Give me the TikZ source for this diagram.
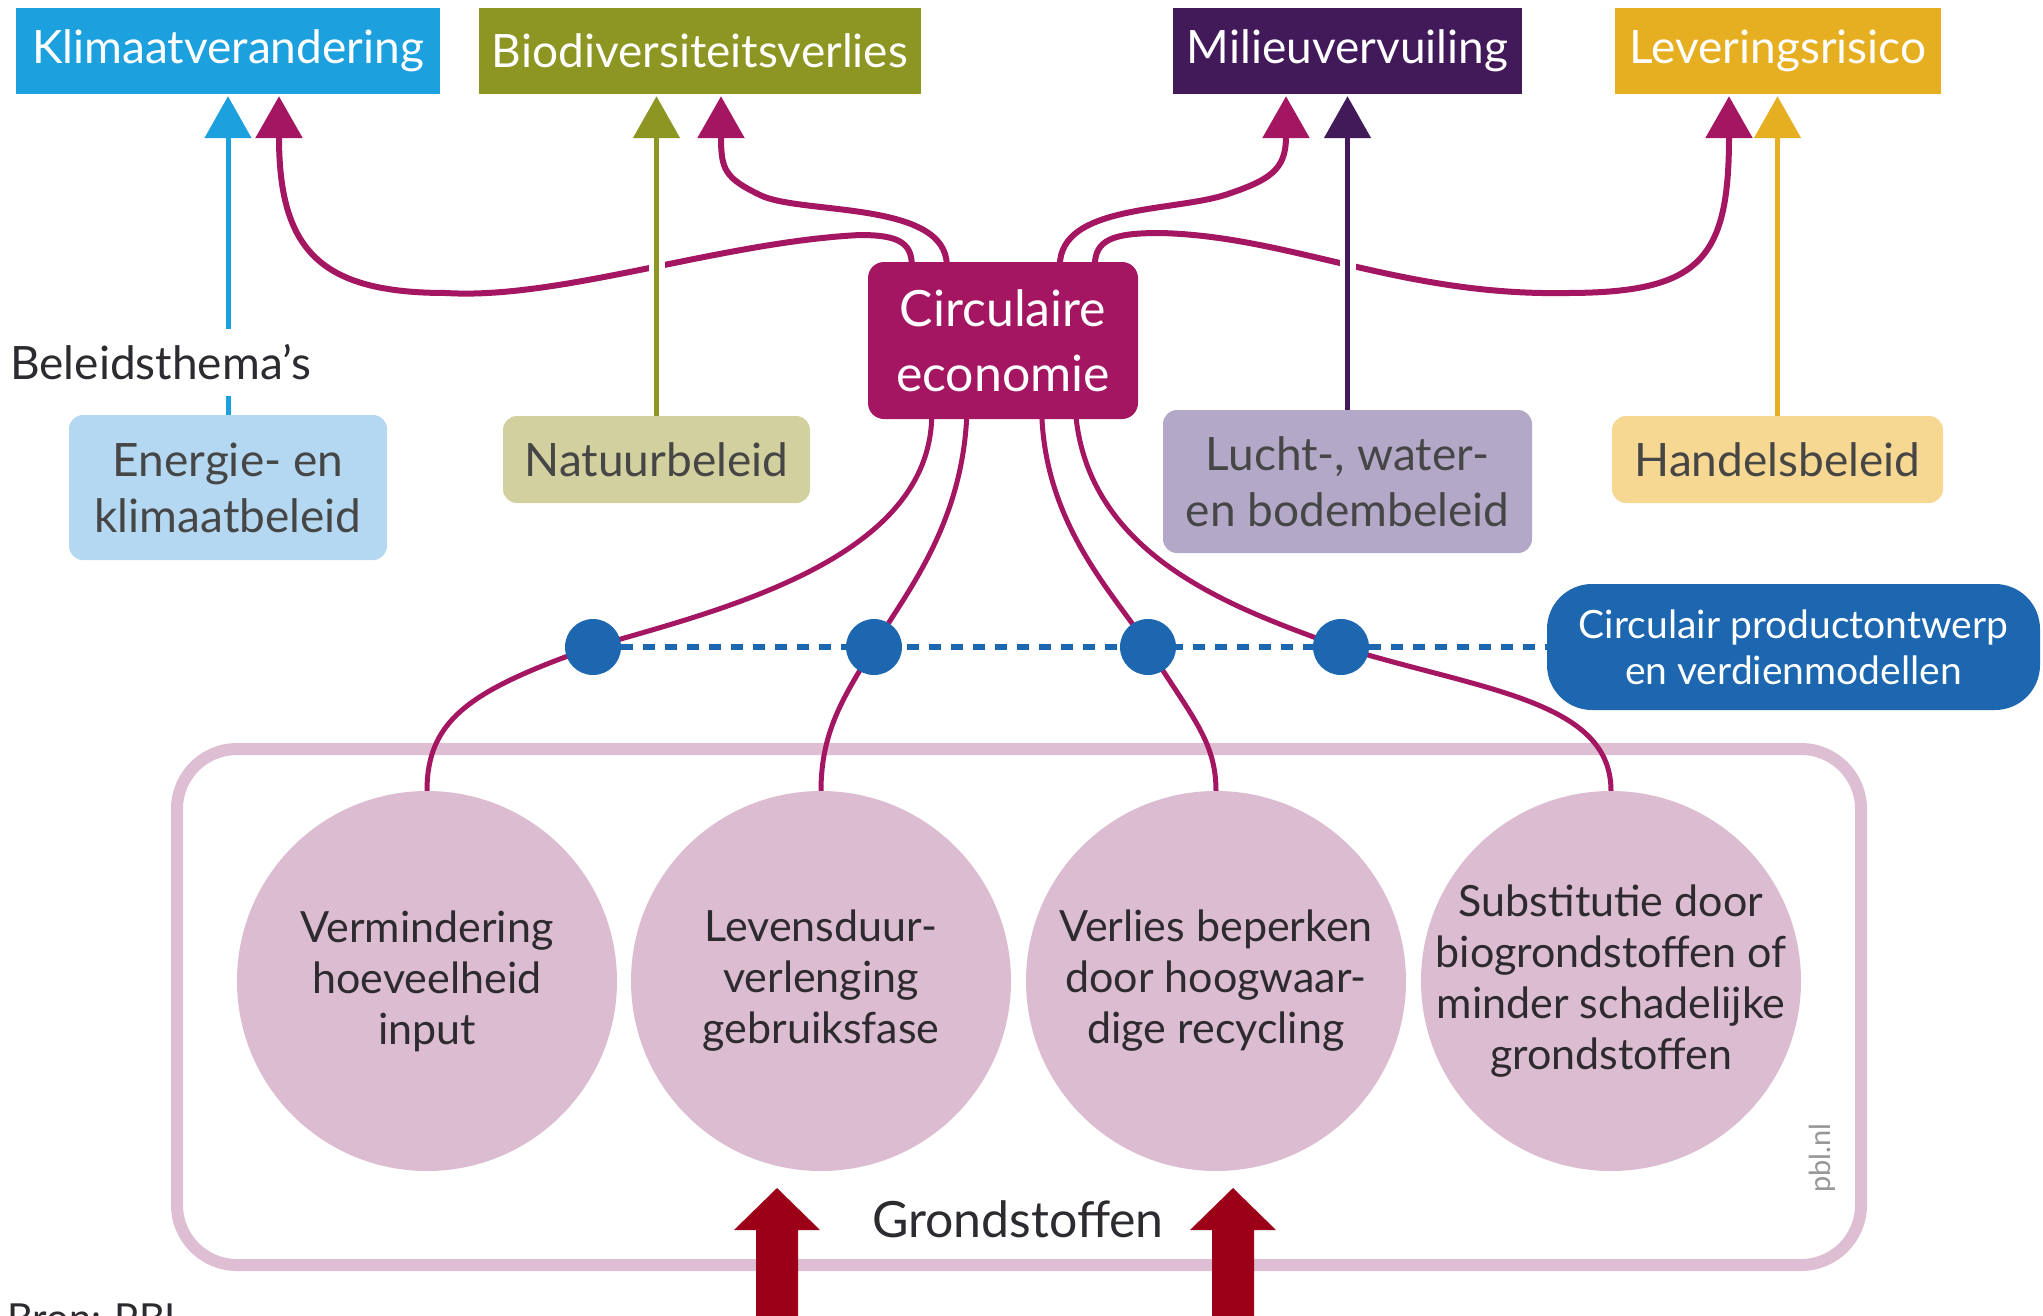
\documentclass[tikz,border=0pt]{standalone}
\usepackage{fontspec}
\setmainfont{Lato}
\usetikzlibrary{arrows.meta,backgrounds}
\definecolor{cKlim}{RGB}{28,160,222}
\definecolor{cBio}{RGB}{141,149,35}
\definecolor{cMil}{RGB}{66,26,90}
\definecolor{cLev}{RGB}{230,174,33}
\definecolor{cKlimL}{RGB}{180,216,242}
\definecolor{cBioL}{RGB}{210,208,158}
\definecolor{cMilL}{RGB}{180,168,200}
\definecolor{cLevL}{RGB}{246,216,146}
\definecolor{cMag}{RGB}{164,22,98}
\definecolor{cBlue}{RGB}{28,103,176}
\definecolor{cPink}{RGB}{220,188,208}
\definecolor{cFrame}{RGB}{222,190,210}
\definecolor{cRed}{RGB}{155,0,24}
\definecolor{cDark}{RGB}{45,42,48}
\definecolor{cPolT}{RGB}{70,70,70}
\definecolor{cGray}{RGB}{150,150,150}
\tikzset{
  topbox/.style={rectangle, inner sep=0pt, minimum height=86pt, text=white,
    font=\fontsize{46}{55}\selectfont},
  polbox/.style={rectangle, rounded corners=14pt, inner sep=0pt, align=center,
    text=cPolT, font=\fontsize{46}{56}\selectfont},
  cebox/.style={rectangle, rounded corners=16pt, inner sep=0pt, align=center,
    fill=cMag, text=white, minimum width=270pt, minimum height=157pt,
    font=\fontsize{50}{65}\selectfont},
  bluebox/.style={rectangle, rounded corners=45pt, inner sep=0pt, align=center,
    fill=cBlue, text=white, minimum width=493pt, minimum height=126pt,
    font=\fontsize{39}{46}\selectfont},
  circnode/.style={circle, fill=cPink, inner sep=-90pt, minimum size=380pt,
    align=center, text=cDark, font=\fontsize{43}{51}\selectfont},
  bdot/.style={circle, fill=cBlue, inner sep=0pt, minimum size=56pt},
  framebox/.style={rectangle, draw=cFrame, line width=12pt, rounded corners=60pt,
    minimum width=1684pt, minimum height=516pt},
  tipped/.style={-{Triangle[width=46pt,length=42pt]}, shorten >=2pt},
  magline/.style={draw=cMag, line width=6pt},
  vline/.style={draw=#1, line width=5pt, tipped,
    preaction={draw=white, line width=16pt, arrows=-}},
  dashline/.style={draw=cBlue, line width=6pt, dash pattern=on 12pt off 10pt},
}
\begin{document}
\begin{tikzpicture}[x=1pt,y=-1pt]
\useasboundingbox (0,0) rectangle (2043,1315);
\clip (0,0) rectangle (2043,1315);

% top boxes
\node[topbox, fill=cKlim, minimum width=424pt] (klim) at (228,51) {Klimaatverandering};
\node[topbox, fill=cBio, minimum width=442pt] (biod) at (700,51) {Biodiversiteitsverlies};
\node[topbox, fill=cMil, minimum width=349pt] (mil) at (1347.5,51) {Milieuvervuiling};
\node[topbox, fill=cLev, minimum width=326pt] (lev) at (1778,51) {Leveringsrisico};

% policy boxes
\node[polbox, fill=cKlimL, minimum width=318pt, minimum height=145pt] (ener) at (228,487.5) {Energie- en\\klimaatbeleid};
\node[polbox, fill=cBioL, minimum width=307pt, minimum height=87pt] (nat) at (656.5,459.5) {Natuurbeleid};
\node[polbox, fill=cMilL, minimum width=369pt, minimum height=143pt] (lucht) at (1347.5,481.5) {Lucht-, water-\\en bodembeleid};
\node[polbox, fill=cLevL, minimum width=331pt, minimum height=87pt] (hand) at (1777.5,459.5) {Handelsbeleid};

\node[anchor=west, fill=white, inner xsep=0pt, minimum height=67pt, text=cDark,
  font=\fontsize{46}{55}\selectfont] (bt) at (10,362) {Beleidsthema’s};

% central box
\node[cebox] (ce) at (1003,340.5) {Circulaire\\economie};

% blue box and dots
\node[bluebox] (bb) at (1793.5,647) {Circulair productontwerp\\en verdienmodellen};
\node[bdot] (d1) at (593,647) {};
\node[bdot] (d2) at (874,647) {};
\node[bdot] (d3) at (1148,647) {};
\node[bdot] (d4) at (1341,647) {};

% circles
\node[circnode] (c1) at (427,981) {Vermindering\\hoeveelheid\\input};
\node[circnode] (c2) at (821,981) {Levensduur-\\verlenging\\gebruiksfase};
\node[circnode] (c3) at (1216,981) {Verlies beperken\\door hoogwaar-\\dige recycling};
\node[circnode] (c4) at (1611,981) {Substitutie door\\biogrondstoffen of\\minder schadelijke\\grondstoffen};

\node[anchor=base, text=cDark, font=\fontsize{50}{60}\selectfont] (gr) at (1018,1237) {Grondstoffen};
\node[rotate=90, text=cGray, font=\fontsize{29}{34}\selectfont] (pbl) at (1822,1158) {pbl.nl};
\node[anchor=base west, inner sep=0pt, text=cDark, font=\fontsize{40}{48}\selectfont] (bron) at (7,1332) {Bron: PBL};

% red input arrows
\fill[cRed] (756,1320) -- (756,1230) -- (734,1230) -- (777,1188) -- (820,1230) -- (798,1230) -- (798,1320) -- cycle;
\fill[cRed] (1212,1320) -- (1212,1230) -- (1190,1230) -- (1233,1188) -- (1276,1230) -- (1254,1230) -- (1254,1320) -- cycle;

\begin{pgfonlayer}{background}
\fill[white] (0,0) rectangle (2043,1315);
\node[framebox] (fr) at (1019,1007) {};
\draw[dashline] (d1) -- (bb.west);
% curves to the top
\draw[magline, tipped] ([xshift=44pt,yshift=-4pt]ce.north west)
  .. controls (912,242) and (897,235) .. (860,235)
  .. controls (720,242) and (560,300) .. (446,293)
  .. controls (320,293) and (279,250) .. ([xshift=51pt]klim.south);
\draw[magline, tipped] ([xshift=79pt,yshift=-4pt]ce.north west)
  .. controls (947,200) and (800,215) .. (760,195)
  .. controls (725,178) and (721,170) .. ([xshift=21pt]biod.south);
\draw[magline, tipped] ([xshift=192pt,yshift=-4pt]ce.north west)
  .. controls (1060,205) and (1170,212) .. (1225,195)
  .. controls (1270,180) and (1286,170) .. ([xshift=-61.5pt]mil.south);
\draw[magline, tipped] ([xshift=227pt,yshift=-4pt]ce.north west)
  .. controls (1095,240) and (1112,233) .. (1160,233)
  .. controls (1290,236) and (1400,296) .. (1566,293)
  .. controls (1700,293) and (1729,260) .. ([xshift=-49pt]lev.south);
% curves down
\draw[magline, line width=5pt] ([xshift=64pt,yshift=4pt]ce.south west)
  .. controls (930,560) and (720,610) .. (d1.center)
  .. controls (470,690) and (427,720) .. (c1.north);
\draw[magline, line width=5pt] ([xshift=99pt,yshift=4pt]ce.south west)
  .. controls (962,530) and (900,600) .. (d2.center)
  .. controls (845,695) and (821,730) .. (c2.north);
\draw[magline, line width=5pt] ([xshift=174pt,yshift=4pt]ce.south west)
  .. controls (1046,530) and (1120,600) .. (d3.center)
  .. controls (1190,715) and (1216,740) .. (c3.north);
\draw[magline, line width=5pt] ([xshift=208pt,yshift=4pt]ce.south west)
  .. controls (1090,560) and (1240,610) .. (d4.center)
  .. controls (1480,690) and (1611,700) .. (c4.north);
% policy lines
\draw[vline=cKlim] (ener.north) -- (ener.north |- klim.south);
\draw[vline=cBio] (nat.north) -- (nat.north |- biod.south);
\draw[vline=cMil] (lucht.north) -- (lucht.north |- mil.south);
\draw[vline=cLev] (hand.north) -- (hand.north |- lev.south);
\end{pgfonlayer}
\end{tikzpicture}
\end{document}
